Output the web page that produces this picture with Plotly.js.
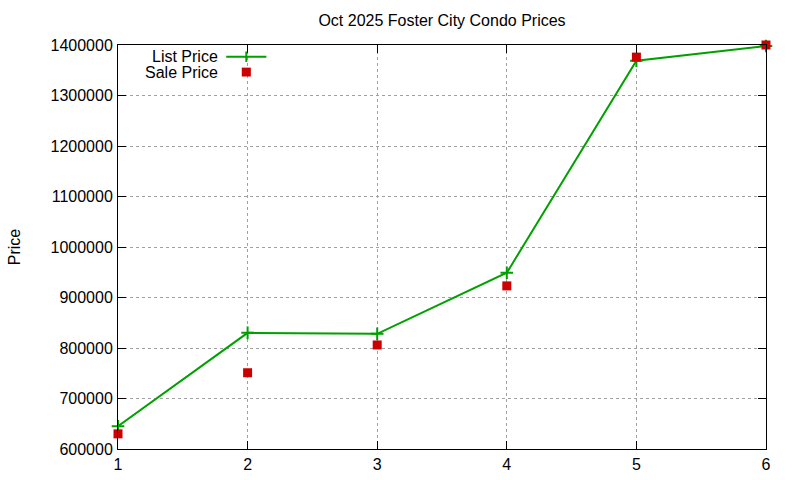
<!DOCTYPE html>
<html>
<head>
<meta charset="utf-8">
<script src="https://cdn.plot.ly/plotly-3.0.1.min.js"></script>
<style>
  html, body { margin: 0; padding: 0; background: #fff; }
  #chart { width: 800px; height: 480px; }
</style>
</head>
<body>
<div id="chart"></div>
<script>
// Oct 2025 Foster City condos, one point per sale
const saleIndex = [1, 2, 3, 4, 5, 6];
const listPrice = [645000, 830000, 828000, 949000, 1369000, 1398000];
const salePrice = [630000, 751000, 806000, 923000, 1376000, 1400000];
const yTicks = [600000, 700000, 800000, 900000, 1000000, 1100000, 1200000, 1300000, 1400000];

const green = "#00a000";
const red = "#cc0000";
const font = { family: "Liberation Sans, Arial, sans-serif", size: 16, color: "#000" };

const listTrace = {
  x: saleIndex,
  y: listPrice,
  type: "scatter",
  mode: "lines+markers",
  line: { color: green, width: 2 },
  marker: { symbol: "cross-thin", size: 9, line: { color: green, width: 2 } },
  showlegend: false,
  cliponaxis: false,
};

const saleTrace = {
  x: saleIndex,
  y: salePrice,
  type: "scatter",
  mode: "markers",
  marker: { symbol: "square", size: 9, color: red },
  showlegend: false,
  cliponaxis: false,
};

const gridAxis = {
  showgrid: true,
  gridcolor: "#a0a0a0",
  griddash: "dot",
  gridwidth: 1,
  zeroline: false,
  showline: true,
  linecolor: "#000",
  linewidth: 1,
  mirror: "ticks",
  ticks: "inside",
  ticklen: 8,
  tickcolor: "#000",
  tickfont: font,
};

const layout = {
  width: 800,
  height: 480,
  margin: { l: 118, r: 34, t: 45, b: 31 },
  paper_bgcolor: "#fff",
  plot_bgcolor: "#fff",
  font: font,
  title: {
    text: "Oct 2025 Foster City Condo Prices",
    font: font,
    xref: "paper",
    x: 0.5,
    xanchor: "center",
    y: 0.957,
    yanchor: "middle",
  },
  xaxis: Object.assign({}, gridAxis, {
    range: [1, 6],
    tickvals: saleIndex,
    ticklabelstandoff: 1,
  }),
  yaxis: Object.assign({}, gridAxis, {
    range: [600000, 1400000],
    tickvals: yTicks,
    ticktext: yTicks.map(String),
    ticklabelstandoff: 1,
    title: { text: "Price", font: font, standoff: 25 },
  }),
  // gnuplot-style key: text on the left, sample on the right
  annotations: [
    { text: "List Price", xref: "paper", yref: "paper", x: 0.157, y: 0.971,
      xanchor: "right", yanchor: "middle", showarrow: false, font: font },
    { text: "Sale Price", xref: "paper", yref: "paper", x: 0.157, y: 0.933,
      xanchor: "right", yanchor: "middle", showarrow: false, font: font },
  ],
  shapes: [
    { type: "line", xref: "paper", yref: "paper", x0: 0.167, x1: 0.229, y0: 0.971, y1: 0.971,
      line: { color: green, width: 2 } },
    { type: "line", xref: "paper", yref: "paper", x0: 0.198, x1: 0.198, y0: 0.958, y1: 0.984,
      line: { color: green, width: 2 } },
    { type: "rect", xref: "paper", yref: "paper", x0: 0.191, x1: 0.205, y0: 0.922, y1: 0.944,
      fillcolor: red, line: { width: 0 } },
  ],
};

Plotly.newPlot("chart", [listTrace, saleTrace], layout, { displayModeBar: false, staticPlot: true });
</script>
</body>
</html>
